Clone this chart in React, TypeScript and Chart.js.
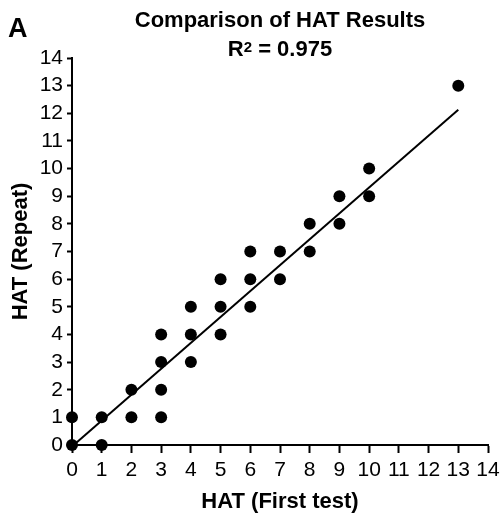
import React, { useEffect, useRef } from "react";
import { Chart, registerables } from "chart.js";

Chart.register(...registerables);

const FONT = '"Liberation Sans", Arial, Helvetica, sans-serif';

// Data
const firstTest = [0, 0, 1, 1, 2, 2, 3, 3, 3, 3, 4, 4, 4, 5, 5, 5, 6, 6, 6, 7, 7, 8, 8, 9, 9, 10, 10, 13];
const repeatTest = [0, 1, 0, 1, 1, 2, 1, 2, 3, 4, 3, 4, 5, 4, 5, 6, 5, 6, 7, 6, 7, 7, 8, 8, 9, 9, 10, 13];
const fitX = [0, 13];
const fitY = [-0.05, 12.13];

const axisMin = 0;
const axisMax = 14;
const axisStep = 1;

const titleLine1 = "Comparison of HAT Results";
const rSquaredBase = "R";
const rSquaredSup = "2";
const rSquaredValue = " = 0.975";
const panelLabel = "A";
const xTitle = "HAT (First test)";
const yTitle = "HAT (Repeat)";

const titlePlugin = {
  id: "customTitle",
  afterDraw(chart: any) {
    const { ctx, chartArea } = chart;
    const cx = (chartArea.left + chartArea.right) / 2;
    ctx.save();
    ctx.fillStyle = "#000";
    ctx.textBaseline = "alphabetic";
    ctx.textAlign = "center";
    ctx.font = `bold 22px ${FONT}`;
    ctx.fillText(titleLine1, cx, 27);

    ctx.font = `bold 22px ${FONT}`;
    const w1 = ctx.measureText(rSquaredBase).width;
    const w3 = ctx.measureText(rSquaredValue).width;
    ctx.font = `bold 15px ${FONT}`;
    const w2 = ctx.measureText(rSquaredSup).width;
    let x = cx - (w1 + w2 + w3) / 2;
    ctx.textAlign = "left";
    ctx.font = `bold 22px ${FONT}`;
    ctx.fillText(rSquaredBase, x, 56);
    x += w1;
    ctx.font = `bold 15px ${FONT}`;
    ctx.fillText(rSquaredSup, x, 52);
    x += w2;
    ctx.font = `bold 22px ${FONT}`;
    ctx.fillText(rSquaredValue, x, 56);

    ctx.font = `bold 27px ${FONT}`;
    ctx.fillText(panelLabel, 8, 37);
    ctx.restore();
  },
};

export default function App() {
  const canvasRef = useRef<HTMLCanvasElement | null>(null);

  useEffect(() => {
    const canvas = canvasRef.current;
    if (!canvas) return;
    const points = firstTest.map((x, i) => ({ x, y: repeatTest[i] }));
    const fit = fitX.map((x, i) => ({ x, y: fitY[i] }));

    const chart = new Chart(canvas, {
      type: "scatter",
      data: {
        datasets: [
          {
            type: "line",
            data: fit,
            borderColor: "#000",
            borderWidth: 2,
            pointRadius: 0,
            fill: false,
            clip: false as any,
          } as any,
          {
            data: points,
            backgroundColor: "#000",
            borderColor: "#000",
            pointRadius: 6,
            pointHoverRadius: 6,
            borderWidth: 0,
            clip: false as any,
          } as any,
        ],
      },
      options: {
        animation: false,
        responsive: false,
        maintainAspectRatio: false,
        layout: { padding: { top: 58, right: 13, bottom: 0, left: 0 } },
        plugins: {
          legend: { display: false },
          title: { display: false },
          tooltip: { enabled: false },
        },
        scales: {
          x: {
            type: "linear",
            min: axisMin,
            max: axisMax,
            afterFit(scale: any) {
              scale.height = 70;
              scale.paddingLeft = 0;
              scale.paddingRight = 0;
            },
            ticks: {
              stepSize: axisStep,
              color: "#000",
              font: { family: FONT, size: 21 },
              padding: 5,
              maxRotation: 0,
              autoSkip: false,
            },
            grid: {
              display: true,
              drawOnChartArea: false,
              drawTicks: true,
              tickLength: 8,
              tickWidth: 2,
              tickColor: "#000",
            },
            border: { display: true, color: "#000", width: 2 },
            title: {
              display: true,
              text: xTitle,
              color: "#000",
              font: { family: FONT, size: 22, weight: "bold", lineHeight: 1.2 },
              padding: { top: 0, bottom: 0 },
            },
          },
          y: {
            type: "linear",
            min: axisMin,
            max: axisMax,
            afterFit(scale: any) {
              scale.width = 72;
              scale.paddingTop = 0;
              scale.paddingBottom = 0;
            },
            ticks: {
              stepSize: axisStep,
              color: "#000",
              font: { family: FONT, size: 21 },
              padding: 4,
              autoSkip: false,
            },
            grid: {
              display: true,
              drawOnChartArea: false,
              drawTicks: true,
              tickLength: 5,
              tickWidth: 2,
              tickColor: "#000",
            },
            border: { display: true, color: "#000", width: 2 },
            title: {
              display: true,
              text: yTitle,
              color: "#000",
              font: { family: FONT, size: 22, weight: "bold", lineHeight: 1.2 },
              padding: { top: 8, bottom: 0 },
            },
          },
        },
      } as any,
      plugins: [titlePlugin],
    });
    return () => chart.destroy();
  }, []);

  return (
    <div style={{ position: "absolute", left: 0, top: 0, width: 501, height: 515, background: "#fff" }}>
      <canvas ref={canvasRef} width={501} height={515} />
    </div>
  );
}
